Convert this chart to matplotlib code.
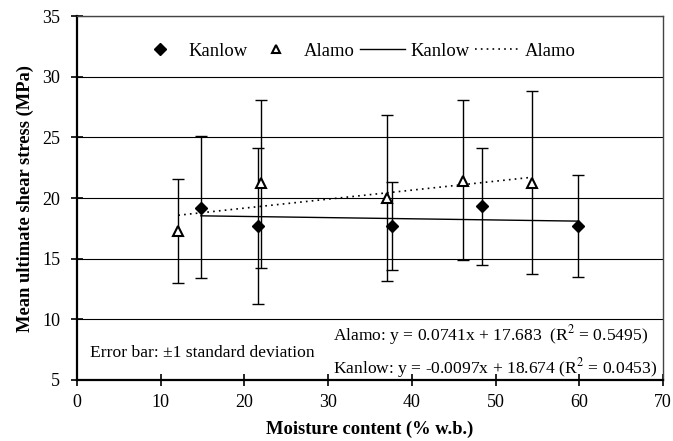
import matplotlib
matplotlib.use("Agg")
import matplotlib.pyplot as plt
import numpy as np
from matplotlib.lines import Line2D

plt.rcParams['font.family'] = ['Liberation Serif', 'DejaVu Serif']
plt.rcParams['mathtext.fontset'] = 'stix'

# Data
kanlow_x = [14.8, 21.6, 37.6, 48.4, 59.9]
kanlow_y = [19.2, 17.7, 17.7, 19.3, 17.7]
kanlow_hi = [25.1, 24.1, 21.3, 24.1, 21.9]
kanlow_lo = [13.4, 11.3, 14.1, 14.5, 13.5]

alamo_x = [12.1, 22.0, 37.0, 46.1, 54.3]
alamo_y = [17.3, 21.2, 20.0, 21.4, 21.2]
alamo_hi = [21.6, 28.1, 26.8, 28.1, 28.8]
alamo_lo = [13.0, 14.2, 13.2, 14.9, 13.7]

alamo_fit = (0.0741, 17.683)
kanlow_fit = (-0.0097, 18.674)

fig = plt.figure(figsize=(6.73, 4.41), dpi=100)
ax = fig.add_axes([77/673, 1-380/441, (663-77)/673, (380-16)/441])

ax.set_xlim(0, 70)
ax.set_ylim(5, 35)
ax.set_xticks(range(0, 71, 10))
ax.set_yticks(range(5, 36, 5))
ax.yaxis.grid(True, color='black', linewidth=0.8)
ax.set_axisbelow(True)
ax.tick_params(direction='inout', length=8, width=1.2, labelsize=13, colors='black')
ax.tick_params(axis='x', pad=6)
ax.tick_params(axis='y', pad=8)
for s in ['left', 'bottom']:
    ax.spines[s].set_linewidth(1.6)
for s in ['top', 'right']:
    ax.spines[s].set_linewidth(1.0)
    ax.spines[s].set_color('#444444')

# error bars
ky = np.array(kanlow_y)
ay = np.array(alamo_y)
ax.errorbar(kanlow_x, ky, yerr=[ky - np.array(kanlow_lo), np.array(kanlow_hi) - ky],
            fmt='none', ecolor='black', elinewidth=1.0, capsize=4, capthick=1.0, zorder=2)
ax.errorbar(alamo_x, ay, yerr=[ay - np.array(alamo_lo), np.array(alamo_hi) - ay],
            fmt='none', ecolor='black', elinewidth=1.0, capsize=4, capthick=1.0, zorder=2)

# trend lines
kx = np.array([min(kanlow_x), max(kanlow_x)])
ax_ = np.array([min(alamo_x), max(alamo_x)])
ax.plot(kx, kanlow_fit[0]*kx + kanlow_fit[1], color='black', linewidth=1.0, zorder=3)
ax.plot(ax_, alamo_fit[0]*ax_ + alamo_fit[1], color='black', linewidth=1.2,
        linestyle=(0, (1, 2.5)), zorder=3)

ax.plot(kanlow_x, kanlow_y, linestyle='none', marker='D', markersize=6,
        color='black', zorder=4)
ax.plot(alamo_x, alamo_y, linestyle='none', marker='^', markersize=7,
        markerfacecolor='white', markeredgecolor='black', markeredgewidth=1.5, zorder=4)

handles = [
    Line2D([], [], linestyle='none', marker='D', markersize=6, color='black'),
    Line2D([], [], linestyle='none', marker='^', markersize=6, markerfacecolor='white',
           markeredgecolor='black', markeredgewidth=1.5),
    Line2D([], [], color='black', linewidth=1.0),
    Line2D([], [], color='black', linewidth=1.2, linestyle=(0, (1, 2.5))),
]
leg = ax.legend(handles, ['Kanlow', 'Alamo', 'Kanlow', 'Alamo'], ncol=4, frameon=False,
                loc='center', bbox_to_anchor=(0.478, (32.1-5)/30),
                prop={'family': ['Liberation Serif', 'DejaVu Serif'], 'size': 13.4},
                handlelength=2.4, handletextpad=0.3, columnspacing=0.3)

ax.text(1.55, 7.2, 'Error bar: ±1 standard deviation', fontsize=12.6, va='center')
ax.text(30.6, 8.75, r'Alamo: y = 0.0741x + 17.683  (R$^2$ = 0.5495)', fontsize=12.6, va='center')
ax.text(30.6, 6.0, r'Kanlow: y = -0.0097x + 18.674 (R$^2$ = 0.0453)', fontsize=12.6, va='center')

ax.set_xlabel('Moisture content (% w.b.)', fontsize=13.3, fontweight='bold', labelpad=7)
ax.set_ylabel('Mean ultimate shear stress (MPa)', fontsize=13.3, fontweight='bold', labelpad=6)

fig.savefig('out.png', dpi=100)
